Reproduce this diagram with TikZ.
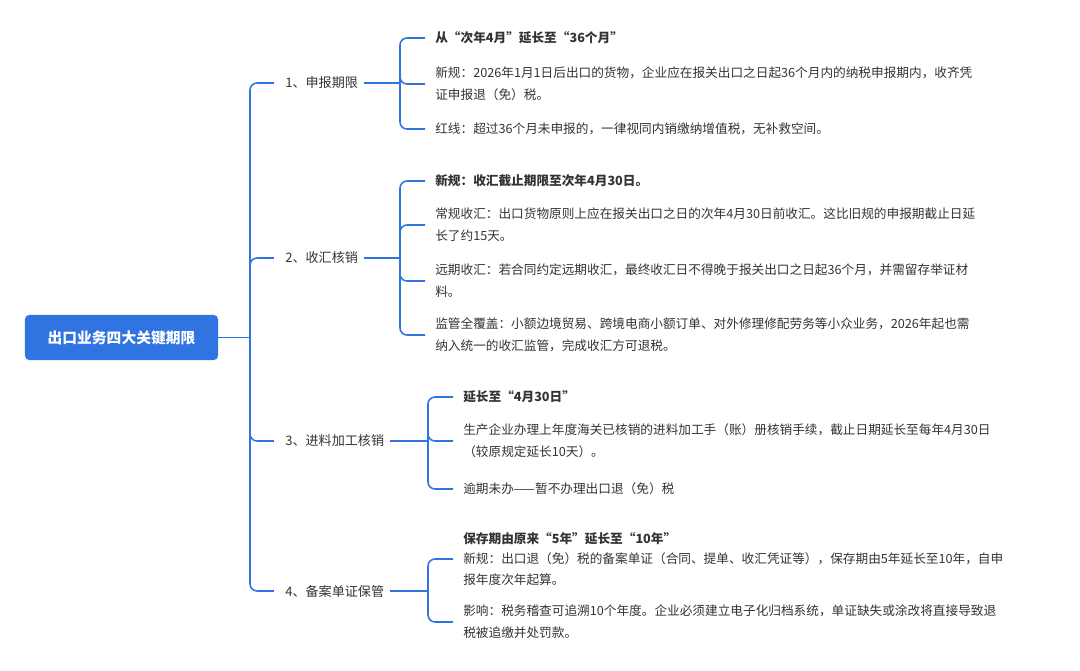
\documentclass[tikz,border=0pt]{standalone}
\usepackage{fontspec}
\setmainfont{Noto Sans CJK SC}
\definecolor{mapblue}{HTML}{2F74E0}
\definecolor{inktext}{HTML}{333333}

\begin{document}
\begin{tikzpicture}[x=0.025cm,y=-0.025cm,
    link/.style={draw=mapblue,line width=1.1pt,rounded corners=5pt},
    branch/.style={anchor=west,inner sep=0pt,text=inktext,font=\fontsize{9.3}{13}\selectfont},
    leaf/.style={anchor=west,inner sep=0pt,align=left,text=inktext,font=\fontsize{9}{15.5}\selectfont}]
  \useasboundingbox (0,0) rectangle (1080,671);
  \node[fill=mapblue,rounded corners=3pt,minimum width=4.825cm,minimum height=1.125cm,
        text=white,font=\fontsize{10.5}{13}\selectfont\bfseries] (root) at (121.5,337.5) {出口业务四大关键期限};
  % branches
  \node[branch] (b1) at (285,83) {1、申报期限};
  \node[branch] (b2) at (285,258) {2、收汇核销};
  \node[branch] (b3) at (285,441) {3、进料加工核销};
  \node[branch] (b4) at (285,591) {4、备案单证保管};
  \coordinate (t) at (250,337.5);
  \draw[link] (root.east) -- (t);
  \foreach \b in {b1,b2,b3,b4}
    \draw[link] (t) |- ([xshift=-8pt]\b.west);
  % leaves of 1
  \node[leaf] (l11) at (435,38) {\bfseries 从“次年4月”延长至“36个月”};
  \node[leaf] (l12) at (435,84) {新规：2026年1月1日后出口的货物，企业应在报关出口之日起36个月内的纳税申报期内，收齐凭\\证申报退（免）税。};
  \node[leaf] (l13) at (435,129) {红线：超过36个月未申报的，一律视同内销缴纳增值税，无补救空间。};
  % leaves of 2
  \node[leaf] (l21) at (435,181) {\bfseries 新规：收汇截止期限至次年4月30日。};
  \node[leaf] (l22) at (435,225) {常规收汇：出口货物原则上应在报关出口之日的次年4月30日前收汇。这比旧规的申报期截止日延\\长了约15天。};
  \node[leaf] (l23) at (435,281) {远期收汇：若合同约定远期收汇，最终收汇日不得晚于报关出口之日起36个月，并需留存举证材\\料。};
  \node[leaf] (l24) at (435,335) {监管全覆盖：小额边境贸易、跨境电商小额订单、对外修理修配劳务等小众业务，2026年起也需\\纳入统一的收汇监管，完成收汇方可退税。};
  % leaves of 3
  \node[leaf] (l31) at (463,397) {\bfseries 延长至“4月30日”};
  \node[leaf] (l32) at (463,441) {生产企业办理上年度海关已核销的进料加工手（账）册核销手续，截止日期延长至每年4月30日\\（较原规定延长10天）。};
  \node[leaf] (l33) at (463,489) {逾期未办——暂不办理出口退（免）税};
  % leaves of 4
  \node[leaf,font=\fontsize{9}{14.5}\selectfont] (l41) at (463,559) {\textbf{保存期由原来“5年”延长至“10年”}\\新规：出口退（免）税的备案单证（合同、提单、收汇凭证等），保存期由5年延长至10年，自申\\报年度次年起算。};
  \node[leaf] (l42) at (463,622) {影响：税务稽查可追溯10个年度。企业必须建立电子化归档系统，单证缺失或涂改将直接导致退\\税被追缴并处罚款。};
  % connectors to leaves
  \coordinate (j1) at (400,83);
  \coordinate (j2) at (400,258);
  \coordinate (j3) at (428,441);
  \coordinate (j4) at (428,591);
  \draw[link] ([xshift=4pt]b1.east) -- (j1);
  \draw[link] ([xshift=4pt]b2.east) -- (j2);
  \draw[link] ([xshift=4pt]b3.east) -- (j3);
  \draw[link] ([xshift=4pt]b4.east) -- (j4);
  \foreach \l in {l11,l12,l13} \draw[link] (j1) |- ([xshift=-7pt]\l.west);
  \foreach \l in {l21,l22,l23,l24} \draw[link] (j2) |- ([xshift=-7pt]\l.west);
  \foreach \l in {l31,l32,l33} \draw[link] (j3) |- ([xshift=-7pt]\l.west);
  \foreach \l in {l41,l42} \draw[link] (j4) |- ([xshift=-7pt]\l.west);
\end{tikzpicture}
\end{document}
